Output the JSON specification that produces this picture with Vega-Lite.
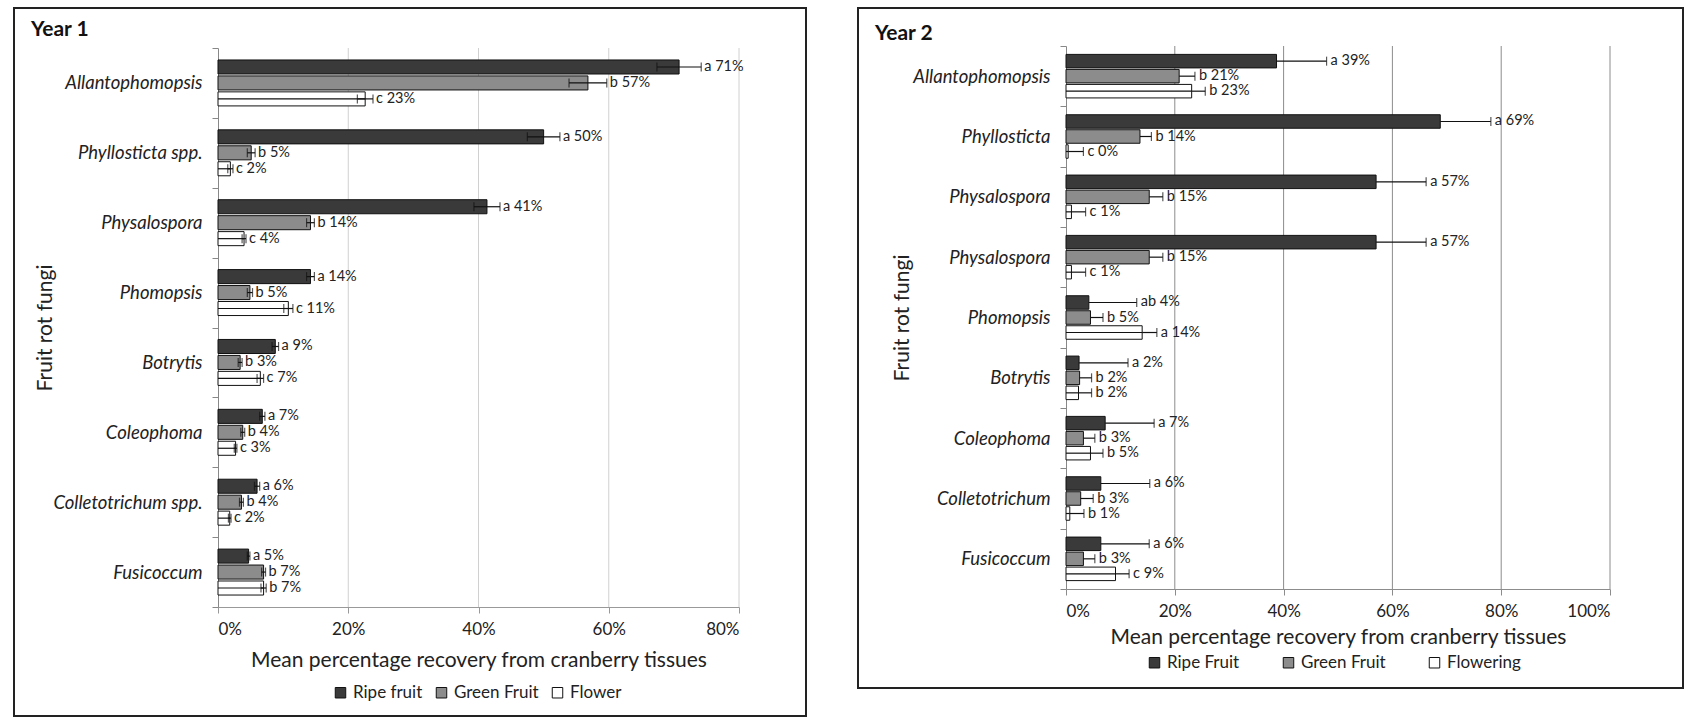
{
  "$schema": "https://vega.github.io/schema/vega-lite/v6.json",
  "background": "white",
  "padding": {"left": 13, "top": -2, "right": 0, "bottom": 0},
  "spacing": 52,
  "bounds": "flush",
  "config": {
    "font": "Lato",
    "view": {"stroke": "#222", "strokeWidth": 2},
    "axis": {"labelFont": "Lato", "titleFont": "Lato", "titleFontWeight": "normal", "labelColor": "#222", "titleColor": "#222"},
    "legend": {"labelFont": "Lato", "labelColor": "#222"}
  },
  "datasets": {
    "grid1": [{"g": 20}, {"g": 40}, {"g": 60}, {"g": 80}],
    "grid2": [{"g": 20}, {"g": 40}, {"g": 60}, {"g": 80}, {"g": 100}],
    "y1": [
      {"fungus": "Allantophomopsis", "stage": "Ripe fruit", "v": 70.8, "lo": 67.4, "hi": 74.2, "lab": "a 71%"},
      {"fungus": "Allantophomopsis", "stage": "Green Fruit", "v": 56.8, "lo": 53.9, "hi": 59.7, "lab": "b 57%"},
      {"fungus": "Allantophomopsis", "stage": "Flower", "v": 22.6, "lo": 21.4, "hi": 23.8, "lab": "c 23%"},
      {"fungus": "Phyllosticta spp.", "stage": "Ripe fruit", "v": 50.0, "lo": 47.5, "hi": 52.5, "lab": "a 50%"},
      {"fungus": "Phyllosticta spp.", "stage": "Green Fruit", "v": 5.1, "lo": 4.5, "hi": 5.7, "lab": "b 5%"},
      {"fungus": "Phyllosticta spp.", "stage": "Flower", "v": 1.9, "lo": 1.5, "hi": 2.3, "lab": "c 2%"},
      {"fungus": "Physalospora", "stage": "Ripe fruit", "v": 41.3, "lo": 39.3, "hi": 43.3, "lab": "a 41%"},
      {"fungus": "Physalospora", "stage": "Green Fruit", "v": 14.2, "lo": 13.6, "hi": 14.8, "lab": "b 14%"},
      {"fungus": "Physalospora", "stage": "Flower", "v": 4.0, "lo": 3.7, "hi": 4.3, "lab": "c 4%"},
      {"fungus": "Phomopsis", "stage": "Ripe fruit", "v": 14.2, "lo": 13.6, "hi": 14.8, "lab": "a 14%"},
      {"fungus": "Phomopsis", "stage": "Green Fruit", "v": 4.9, "lo": 4.5, "hi": 5.3, "lab": "b 5%"},
      {"fungus": "Phomopsis", "stage": "Flower", "v": 10.8, "lo": 10.1, "hi": 11.5, "lab": "c 11%"},
      {"fungus": "Botrytis", "stage": "Ripe fruit", "v": 8.8, "lo": 8.3, "hi": 9.3, "lab": "a 9%"},
      {"fungus": "Botrytis", "stage": "Green Fruit", "v": 3.4, "lo": 3.1, "hi": 3.7, "lab": "b 3%"},
      {"fungus": "Botrytis", "stage": "Flower", "v": 6.5, "lo": 6.0, "hi": 7.0, "lab": "c 7%"},
      {"fungus": "Coleophoma", "stage": "Ripe fruit", "v": 6.8, "lo": 6.4, "hi": 7.2, "lab": "a 7%"},
      {"fungus": "Coleophoma", "stage": "Green Fruit", "v": 3.8, "lo": 3.5, "hi": 4.1, "lab": "b 4%"},
      {"fungus": "Coleophoma", "stage": "Flower", "v": 2.7, "lo": 2.5, "hi": 2.9, "lab": "c 3%"},
      {"fungus": "Colletotrichum spp.", "stage": "Ripe fruit", "v": 6.0, "lo": 5.6, "hi": 6.4, "lab": "a 6%"},
      {"fungus": "Colletotrichum spp.", "stage": "Green Fruit", "v": 3.6, "lo": 3.3, "hi": 3.9, "lab": "b 4%"},
      {"fungus": "Colletotrichum spp.", "stage": "Flower", "v": 1.8, "lo": 1.6, "hi": 2.0, "lab": "c 2%"},
      {"fungus": "Fusicoccum", "stage": "Ripe fruit", "v": 4.7, "lo": 4.5, "hi": 4.9, "lab": "a 5%"},
      {"fungus": "Fusicoccum", "stage": "Green Fruit", "v": 7.0, "lo": 6.7, "hi": 7.3, "lab": "b 7%"},
      {"fungus": "Fusicoccum", "stage": "Flower", "v": 7.0, "lo": 6.6, "hi": 7.4, "lab": "b 7%"}
    ],
    "y2": [
      {"fungus": "Allantophomopsis|1", "stage": "Ripe Fruit", "v": 38.7, "hi": 47.9, "lab": "a 39%"},
      {"fungus": "Allantophomopsis|1", "stage": "Green Fruit", "v": 20.8, "hi": 23.7, "lab": "b 21%"},
      {"fungus": "Allantophomopsis|1", "stage": "Flowering", "v": 23.1, "hi": 25.6, "lab": "b 23%"},
      {"fungus": "Phyllosticta|2", "stage": "Ripe Fruit", "v": 68.8, "hi": 78.1, "lab": "a 69%"},
      {"fungus": "Phyllosticta|2", "stage": "Green Fruit", "v": 13.6, "hi": 15.7, "lab": "b 14%"},
      {"fungus": "Phyllosticta|2", "stage": "Flowering", "v": 0.4, "hi": 3.2, "lab": "c 0%"},
      {"fungus": "Physalospora|3", "stage": "Ripe Fruit", "v": 57.0, "hi": 66.2, "lab": "a 57%"},
      {"fungus": "Physalospora|3", "stage": "Green Fruit", "v": 15.3, "hi": 17.8, "lab": "b 15%"},
      {"fungus": "Physalospora|3", "stage": "Flowering", "v": 1.0, "hi": 3.6, "lab": "c 1%"},
      {"fungus": "Physalospora|4", "stage": "Ripe Fruit", "v": 57.0, "hi": 66.2, "lab": "a 57%"},
      {"fungus": "Physalospora|4", "stage": "Green Fruit", "v": 15.3, "hi": 17.8, "lab": "b 15%"},
      {"fungus": "Physalospora|4", "stage": "Flowering", "v": 1.0, "hi": 3.6, "lab": "c 1%"},
      {"fungus": "Phomopsis|5", "stage": "Ripe Fruit", "v": 4.2, "hi": 13.0, "lab": "ab 4%"},
      {"fungus": "Phomopsis|5", "stage": "Green Fruit", "v": 4.5, "hi": 6.8, "lab": "b 5%"},
      {"fungus": "Phomopsis|5", "stage": "Flowering", "v": 14.0, "hi": 16.7, "lab": "a 14%"},
      {"fungus": "Botrytis|6", "stage": "Ripe Fruit", "v": 2.4, "hi": 11.4, "lab": "a 2%"},
      {"fungus": "Botrytis|6", "stage": "Green Fruit", "v": 2.5, "hi": 4.7, "lab": "b 2%"},
      {"fungus": "Botrytis|6", "stage": "Flowering", "v": 2.3, "hi": 4.7, "lab": "b 2%"},
      {"fungus": "Coleophoma|7", "stage": "Ripe Fruit", "v": 7.2, "hi": 16.2, "lab": "a 7%"},
      {"fungus": "Coleophoma|7", "stage": "Green Fruit", "v": 3.2, "hi": 5.3, "lab": "b 3%"},
      {"fungus": "Coleophoma|7", "stage": "Flowering", "v": 4.5, "hi": 6.8, "lab": "b 5%"},
      {"fungus": "Colletotrichum|8", "stage": "Ripe Fruit", "v": 6.4, "hi": 15.4, "lab": "a 6%"},
      {"fungus": "Colletotrichum|8", "stage": "Green Fruit", "v": 2.7, "hi": 5.0, "lab": "b 3%"},
      {"fungus": "Colletotrichum|8", "stage": "Flowering", "v": 0.7, "hi": 3.3, "lab": "b 1%"},
      {"fungus": "Fusicoccum|9", "stage": "Ripe Fruit", "v": 6.4, "hi": 15.3, "lab": "a 6%"},
      {"fungus": "Fusicoccum|9", "stage": "Green Fruit", "v": 3.2, "hi": 5.3, "lab": "b 3%"},
      {"fungus": "Fusicoccum|9", "stage": "Flowering", "v": 9.1, "hi": 11.6, "lab": "c 9%"}
    ]
  },
  "resolve": {
    "scale": {"x": "independent", "y": "independent", "yOffset": "independent", "fill": "independent"},
    "axis": {"x": "independent", "y": "independent"},
    "legend": {"fill": "independent"}
  },
  "hconcat": [
    {
      "width": 792,
      "height": 708,
      "title": {"text": "Year 1", "anchor": "start", "frame": "group", "offset": -41, "dx": 17, "fontSize": 21, "fontWeight": "bold", "font": "Lato", "color": "#111"},
      "resolve": {"scale": {"y": "independent"}},
      "layer": [
        {
          "data": {"name": "grid1"},
          "mark": {"type": "rule", "color": "#d0d0d0", "strokeWidth": 1},
          "encoding": {
            "x": {"field": "g", "type": "quantitative",
              "scale": {"domain": [0, 80], "range": [204, 725], "nice": false},
              "axis": {"values": [0, 20, 40, 60, 80], "labelExpr": "datum.value + '%'", "grid": false, "domainColor": "#999", "tickColor": "#999", "tickSize": 6, "offset": -109, "labelFontSize": 17, "labelPadding": 8, "title": "Mean percentage recovery from cranberry tissues", "titleFontSize": 21, "titleY": 42}},
            "y": {"datum": 0, "type": "quantitative", "scale": {"domain": [0, 1], "range": [40, 599], "nice": false, "zero": false}, "axis": null},
            "y2": {"datum": 1}
          }
        },
        {
          "data": {"name": "y1"},
          "encoding": {
            "y": {
              "field": "fungus", "type": "nominal", "sort": null,
              "scale": {"domain": ["Allantophomopsis", "Phyllosticta spp.", "Physalospora", "Phomopsis", "Botrytis", "Coleophoma", "Colletotrichum spp.", "Fusicoccum"], "range": [40, 599], "paddingInner": 0, "paddingOuter": 0},
              "axis": {"orient": "left", "offset": -204, "tickBand": "extent", "tickSize": 6, "tickColor": "#888", "domainColor": "#888", "labelFontSize": 18.5, "labelFontStyle": "italic", "labelPadding": 10, "title": "Fruit rot fungi", "titleFontSize": 21, "titleX": -163, "titleY": 319.5, "grid": false}
            },
            "yOffset": {"field": "stage", "type": "nominal", "sort": null, "scale": {"domain": ["Ripe fruit", "Green Fruit", "Flower"], "paddingInner": 0.12, "paddingOuter": 0.75}}
          },
          "layer": [
            {
              "mark": {"type": "bar", "stroke": "#111", "strokeWidth": 1},
              "encoding": {
                "x": {"field": "v", "type": "quantitative"},
                "fill": {"field": "stage", "type": "nominal", "sort": null,
                  "scale": {"domain": ["Ripe fruit", "Green Fruit", "Flower"], "range": ["#3a3a3a", "#8c8c8c", "#ffffff"]},
                  "legend": {"orient": "none", "legendX": 318, "legendY": 676, "direction": "horizontal", "title": null, "symbolType": "square", "symbolSize": 110, "symbolStrokeColor": "#111", "symbolStrokeWidth": 1, "labelFontSize": 17, "columnPadding": 10, "labelOffset": 4}}
              }
            },
            {
              "transform": [{"filter": "datum.stage === 'Flower'"}],
              "mark": {"type": "rule", "color": "#111", "strokeWidth": 1.2},
              "encoding": {"x": {"field": "v", "type": "quantitative"}, "x2": {"datum": 0}}
            },
            {
              "mark": {"type": "rule", "color": "#111", "strokeWidth": 1.2},
              "encoding": {"x": {"field": "lo", "type": "quantitative"}, "x2": {"field": "hi"}}
            },
            {
              "mark": {"type": "tick", "color": "#111", "thickness": 1.2, "size": 9},
              "encoding": {"x": {"field": "lo", "type": "quantitative"}}
            },
            {
              "mark": {"type": "tick", "color": "#111", "thickness": 1.2, "size": 9},
              "encoding": {"x": {"field": "hi", "type": "quantitative"}}
            },
            {
              "mark": {"type": "text", "align": "left", "baseline": "middle", "dx": 3, "fontSize": 14.5, "color": "#222", "font": "Lato"},
              "encoding": {"x": {"field": "hi", "type": "quantitative"}, "text": {"field": "lab"}}
            }
          ]
        }
      ]
    },
    {
      "width": 825,
      "height": 680,
      "title": {"text": "Year 2", "anchor": "start", "frame": "group", "offset": -45, "dx": 17, "fontSize": 21, "fontWeight": "bold", "font": "Lato", "color": "#111"},
      "resolve": {"scale": {"y": "independent"}},
      "layer": [
        {
          "data": {"name": "grid2"},
          "mark": {"type": "rule", "color": "#8c8c8c", "strokeWidth": 1},
          "encoding": {
            "x": {"field": "g", "type": "quantitative",
              "scale": {"domain": [0, 100], "range": [208, 752], "nice": false},
              "axis": {"values": [0, 20, 40, 60, 80, 100], "labelExpr": "datum.value + '%'", "grid": false, "domainColor": "#8c8c8c", "tickColor": "#8c8c8c", "tickSize": 6, "offset": -99, "labelFontSize": 17, "labelPadding": 8, "title": "Mean percentage recovery from cranberry tissues", "titleFontSize": 21, "titleY": 37}},
            "y": {"datum": 0, "type": "quantitative", "scale": {"domain": [0, 1], "range": [38, 581], "nice": false, "zero": false}, "axis": null},
            "y2": {"datum": 1}
          }
        },
        {
          "data": {"name": "y2"},
          "encoding": {
            "y": {
              "field": "fungus", "type": "nominal", "sort": null,
              "scale": {"domain": ["Allantophomopsis|1", "Phyllosticta|2", "Physalospora|3", "Physalospora|4", "Phomopsis|5", "Botrytis|6", "Coleophoma|7", "Colletotrichum|8", "Fusicoccum|9"], "range": [38, 581], "paddingInner": 0, "paddingOuter": 0},
              "axis": {"orient": "left", "offset": -208, "tickBand": "extent", "tickSize": 6, "tickColor": "#888", "domainColor": "#888", "labelExpr": "split(datum.label, '|')[0]", "labelFontSize": 18.5, "labelFontStyle": "italic", "labelPadding": 10, "title": "Fruit rot fungi", "titleFontSize": 21, "titleX": -154, "titleY": 309.5, "grid": false}
            },
            "yOffset": {"field": "stage", "type": "nominal", "sort": null, "scale": {"domain": ["Ripe Fruit", "Green Fruit", "Flowering"], "paddingInner": 0.1, "paddingOuter": 0.56}}
          },
          "layer": [
            {
              "mark": {"type": "bar", "stroke": "#111", "strokeWidth": 1},
              "encoding": {
                "x": {"field": "v", "type": "quantitative"},
                "fill": {"field": "stage", "type": "nominal", "sort": null,
                  "scale": {"domain": ["Ripe Fruit", "Green Fruit", "Flowering"], "range": ["#3a3a3a", "#8c8c8c", "#ffffff"]},
                  "legend": {"orient": "none", "legendX": 288, "legendY": 646, "direction": "horizontal", "title": null, "symbolType": "square", "symbolSize": 110, "symbolStrokeColor": "#111", "symbolStrokeWidth": 1, "labelFontSize": 17, "columnPadding": 40, "labelOffset": 4}}
              }
            },
            {
              "transform": [{"filter": "datum.stage === 'Flowering'"}],
              "mark": {"type": "rule", "color": "#111", "strokeWidth": 1.2},
              "encoding": {"x": {"field": "v", "type": "quantitative"}, "x2": {"datum": 0}}
            },
            {
              "mark": {"type": "rule", "color": "#111", "strokeWidth": 1.2},
              "encoding": {"x": {"field": "v", "type": "quantitative"}, "x2": {"field": "hi"}}
            },
            {
              "mark": {"type": "tick", "color": "#111", "thickness": 1.2, "size": 9},
              "encoding": {"x": {"field": "hi", "type": "quantitative"}}
            },
            {
              "mark": {"type": "text", "align": "left", "baseline": "middle", "dx": 4, "fontSize": 14.5, "color": "#222", "font": "Lato"},
              "encoding": {"x": {"field": "hi", "type": "quantitative"}, "text": {"field": "lab"}}
            }
          ]
        }
      ]
    }
  ]
}
